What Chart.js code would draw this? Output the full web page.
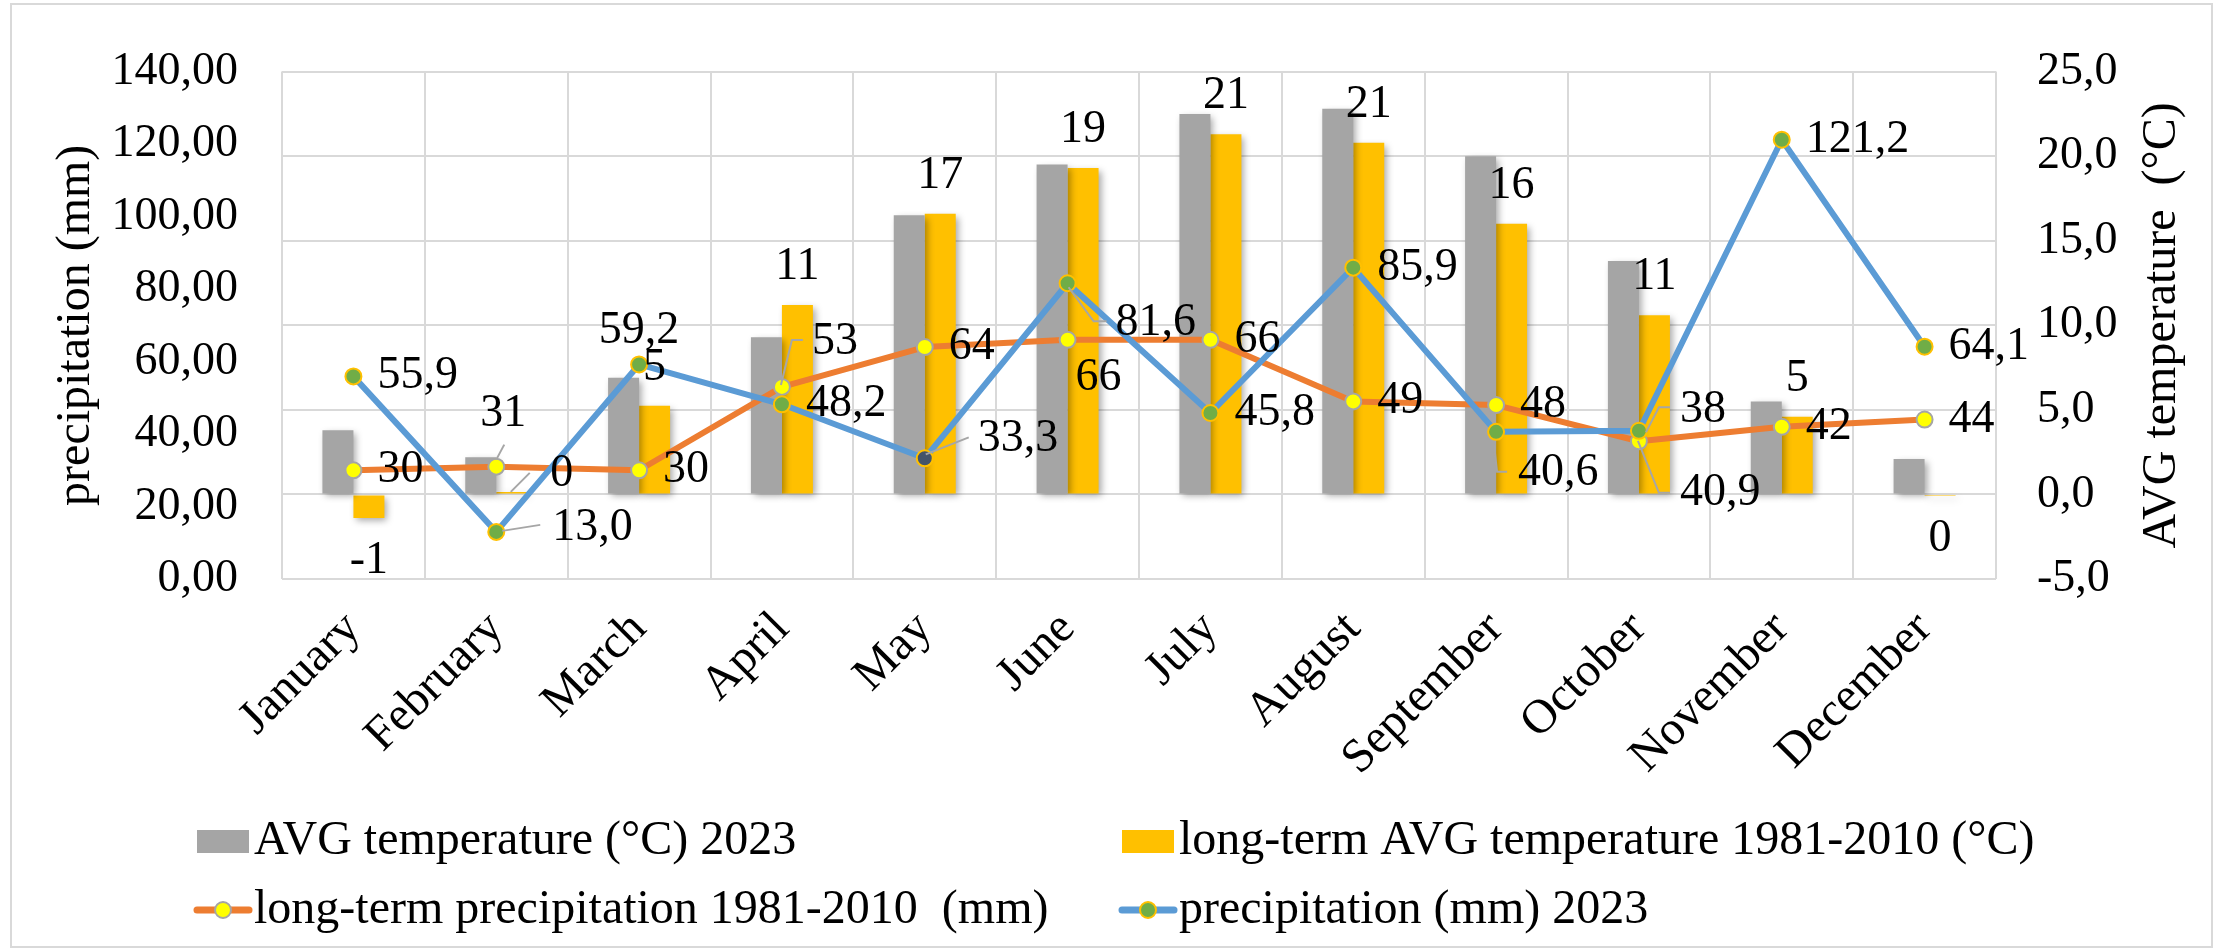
<!DOCTYPE html>
<html>
<head>
<meta charset="utf-8">
<title>Temperature and precipitation 2023</title>
<script src="https://cdn.jsdelivr.net/npm/chart.js@4.4.0/dist/chart.umd.min.js"></script>
<style>
  html, body { margin: 0; padding: 0; background: #ffffff; overflow: hidden; }
  #wrap { position: relative; width: 2221px; height: 951px; }
</style>
</head>
<body>
<div id="wrap"><canvas id="chart"></canvas></div>
<script>
//-----------------------------------------------------------------------------
// data
//-----------------------------------------------------------------------------
const months = ['January', 'February', 'March', 'April', 'May', 'June',
                'July', 'August', 'September', 'October', 'November', 'December'];

const seriesNames = [
    'AVG temperature (°C) 2023',
    'long-term AVG temperature 1981-2010 (°C)',
    'long-term precipitation 1981-2010  (mm)',
    'precipitation (mm) 2023'
];

// temperature (right axis, °C)
const avgTemp2023     = [3.8, 2.2, 6.9, 9.3, 16.5, 19.5, 22.5, 22.8, 20.0, 13.8, 5.5, 2.1];
const longTermTemp    = [-1.4, 0.15, 5.25, 11.2, 16.6, 19.3, 21.3, 20.8, 16.0, 10.6, 4.6, -0.1];

// precipitation (left axis, mm)
const longTermPrecip  = [30, 31, 30, 53, 64, 66, 66, 49, 48, 38, 42, 44];
const precip2023      = [55.9, 13.0, 59.2, 48.2, 33.3, 81.6, 45.8, 85.9, 40.6, 40.9, 121.2, 64.1];

// axis ranges: [min, max, step]
const precipAxis = [0, 140, 20];
const tempAxis   = [-5, 25, 5];

//-----------------------------------------------------------------------------
// styling / layout
//-----------------------------------------------------------------------------
const FONT = '"Liberation Serif"';
const TICK_SIZE = 46;     // axis numbers and data labels
const TEXT_SIZE = 48;     // titles, month names, legend
const GRID = '#D9D9D9';
const LEADER = '#A6A6A6';

Chart.defaults.font.family = FONT;
Chart.defaults.font.size = TICK_SIZE;
Chart.defaults.color = '#000000';

// where the data labels sit that were moved by hand (offsets from the mark)
const longPrecipLabelPlace = {
    1: { dx: -16, dy: -53, leader: [[0, -7], [8, -22]] },
    3: { dx: 30, dy: -45, leader: [[-1, -2], [10, -47], [21, -47]] },
    5: { dx: 8, dy: 38 },
    9: { dx: 41, dy: -31, leader: [[7, -9], [20, -34], [31, -34]] }
};
const precipLabelPlace = {
    1: { dx: 56, dy: -4, leader: [[6, -1], [44, -7]] },
    2: { dx: 0, dy: -34, center: true },
    4: { dx: 53, dy: -19, leader: [[1, -4], [44, -21]] },
    5: { dx: 48, dy: 40, leader: [[1, 4], [26, 38], [39, 38]] },
    8: { dx: 22, dy: 41, leader: [[-2, 13], [1, 40], [11, 40]] },
    9: { dx: 41, dy: 62, leader: [[-1, 10], [20, 62], [31, 62]] }
};
const longTempLabelPlace = {
    1: { dx: 50, dy: -18, leader: [[-1, 0], [18, -19]] }
};

// legend grid (two columns, two rows)
const legendCols = [197, 1122];
const legendRows = [841.5, 910];

const commaFixed = (v, d) => v.toFixed(d).replace('.', ',');

//-----------------------------------------------------------------------------
// helper: poly line for the label leader lines
//-----------------------------------------------------------------------------
function drawLeader(ctx, x, y, pts) {
    ctx.save();
    ctx.strokeStyle = LEADER;
    ctx.lineWidth = 2;
    ctx.beginPath();
    pts.forEach((p, i) => {
        if (i === 0) ctx.moveTo(x + p[0], y + p[1]);
        else ctx.lineTo(x + p[0], y + p[1]);
    });
    ctx.stroke();
    ctx.restore();
}

function drawLineLabels(ctx, meta, values, places, fmt) {
    meta.data.forEach((pt, i) => {
        const place = places[i] || { dx: 24, dy: 0 };
        if (place.leader) drawLeader(ctx, pt.x, pt.y, place.leader);
        ctx.textAlign = place.center ? 'center' : 'left';
        ctx.fillText(fmt(values[i]), pt.x + place.dx, pt.y + place.dy);
    });
}

//-----------------------------------------------------------------------------
// plugin: frame, bar shadows, data labels, right title and legend
//-----------------------------------------------------------------------------
const excelLook = {
    id: 'excelLook',

    beforeDraw(chart) {
        const ctx = chart.ctx;
        ctx.save();
        ctx.fillStyle = '#ffffff';
        ctx.fillRect(0, 0, chart.width, chart.height);
        ctx.strokeStyle = GRID;
        ctx.lineWidth = 2;
        ctx.strokeRect(11, 4, chart.width - 20, chart.height - 8);
        ctx.restore();
    },

    beforeDatasetDraw(chart, args) {
        if (args.meta.type !== 'bar') return;
        const ctx = chart.ctx;
        ctx.save();
        ctx.shadowColor = 'rgba(0, 0, 0, 0.35)';
        ctx.shadowBlur = 7;
        ctx.shadowOffsetX = 3;
        ctx.shadowOffsetY = 3;
    },

    afterDatasetDraw(chart, args) {
        if (args.meta.type !== 'bar') return;
        chart.ctx.restore();
    },

    afterDatasetsDraw(chart) {
        const ctx = chart.ctx;
        ctx.save();
        ctx.font = `${TICK_SIZE}px ${FONT}`;
        ctx.fillStyle = '#000000';
        ctx.textBaseline = 'middle';

        // long-term temperature bars: outside end
        chart.getDatasetMeta(1).data.forEach((bar, i) => {
            const v = longTermTemp[i];
            const place = longTempLabelPlace[i];
            ctx.textAlign = 'center';
            if (place) {
                drawLeader(ctx, bar.x, bar.y, place.leader);
                ctx.fillText(String(Math.round(v)), bar.x + place.dx, bar.y + place.dy);
            } else {
                const y = v < 0 ? bar.y + 43 : bar.y - 38;
                ctx.fillText(String(Math.round(v)), bar.x, y);
            }
        });

        drawLineLabels(ctx, chart.getDatasetMeta(2), longTermPrecip, longPrecipLabelPlace,
                       v => String(Math.round(v)));
        drawLineLabels(ctx, chart.getDatasetMeta(3), precip2023, precipLabelPlace,
                       v => commaFixed(v, 1));
        ctx.restore();
    },

    afterDraw(chart) {
        const ctx = chart.ctx;
        const area = chart.chartArea;
        ctx.save();
        ctx.font = `${TEXT_SIZE}px ${FONT}`;
        ctx.fillStyle = '#000000';

        // right axis title, reading bottom to top like the left one
        ctx.translate(2162, (area.top + area.bottom) / 2);
        ctx.rotate(-Math.PI / 2);
        ctx.textAlign = 'center';
        ctx.textBaseline = 'middle';
        ctx.fillText('AVG temperature  (°C)', 0, 0);
        ctx.setTransform(1, 0, 0, 1, 0, 0);

        // legend
        ctx.textAlign = 'left';
        chart.data.datasets.forEach((ds, i) => {
            const x = legendCols[i % 2];
            const y = legendRows[Math.floor(i / 2)];
            if (ds.type === 'bar') {
                ctx.fillStyle = ds.backgroundColor;
                ctx.fillRect(x, y - 11.5, 52, 23);
                ctx.fillStyle = '#000000';
                ctx.fillText(ds.label, x + 57, y);
            } else {
                ctx.strokeStyle = ds.borderColor;
                ctx.lineWidth = 7;
                ctx.lineCap = 'round';
                ctx.beginPath();
                ctx.moveTo(x, y);
                ctx.lineTo(x + 52, y);
                ctx.stroke();
                ctx.beginPath();
                ctx.arc(x + 26, y, 8, 0, Math.PI * 2);
                ctx.fillStyle = ds.legendPointColor;
                ctx.fill();
                ctx.lineWidth = 2;
                ctx.strokeStyle = ds.legendPointBorder;
                ctx.stroke();
                ctx.fillStyle = '#000000';
                ctx.fillText(ds.label, x + 57, y);
            }
        });
        ctx.restore();
    }
};

//-----------------------------------------------------------------------------
// the chart
//-----------------------------------------------------------------------------
const ctx = document.getElementById('chart').getContext('2d');
new Chart(ctx, {
    type: 'bar',
    data: {
        labels: months,
        datasets: [
            {
                type: 'bar',
                label: seriesNames[0],
                data: avgTemp2023,
                yAxisID: 'yTemp',
                backgroundColor: '#A5A5A5',
                categoryPercentage: 0.434,
                barPercentage: 1.0,
                order: 2
            },
            {
                type: 'bar',
                label: seriesNames[1],
                data: longTermTemp,
                yAxisID: 'yTemp',
                backgroundColor: '#FFC000',
                categoryPercentage: 0.434,
                barPercentage: 1.0,
                order: 3
            },
            {
                type: 'line',
                label: seriesNames[2],
                data: longTermPrecip,
                yAxisID: 'yPrecip',
                borderColor: '#ED7D31',
                borderWidth: 6,
                borderCapStyle: 'round',
                borderJoinStyle: 'round',
                tension: 0,
                pointRadius: 8,
                pointBackgroundColor: '#FFFF00',
                pointBorderColor: '#A5A5A5',
                pointBorderWidth: 2,
                legendPointColor: '#FFFF00',
                legendPointBorder: '#A5A5A5',
                order: 1
            },
            {
                type: 'line',
                label: seriesNames[3],
                data: precip2023,
                yAxisID: 'yPrecip',
                borderColor: '#5B9BD5',
                borderWidth: 6,
                borderCapStyle: 'round',
                borderJoinStyle: 'round',
                tension: 0,
                pointRadius: 8,
                // the May marker is dark in the original
                pointBackgroundColor: months.map(m => m === 'May' ? '#44546A' : '#70AD47'),
                pointBorderColor: '#FFC000',
                pointBorderWidth: 2,
                legendPointColor: '#70AD47',
                legendPointBorder: '#FFC000',
                order: 0
            }
        ]
    },

    options: {
        responsive: true,
        maintainAspectRatio: false,
        animation: false,
        layout: {
            padding: { top: 45, left: 0, right: 0, bottom: 0 }
        },

        plugins: {
            legend: { display: false },
            tooltip: { enabled: false }
        },

        scales: {
            x: {
                offset: true,
                grid: { offset: true, color: GRID, lineWidth: 2, drawTicks: false },
                border: { display: false },
                ticks: {
                    minRotation: 45,
                    maxRotation: 45,
                    autoSkip: false,
                    padding: 22,
                    font: { size: TEXT_SIZE }
                },
                afterFit: s => { s.height = 372; }
            },

            yPrecip: {
                position: 'left',
                min: precipAxis[0],
                max: precipAxis[1],
                grid: { display: false, drawTicks: false },
                border: { display: false },
                ticks: {
                    stepSize: precipAxis[2],
                    padding: 44,
                    callback: v => commaFixed(v, 2)
                },
                title: {
                    display: true,
                    text: 'precipitation (mm)',
                    font: { size: TEXT_SIZE },
                    padding: { top: 48, bottom: 0 }
                },
                afterFit: s => { s.width = 282; }
            },

            yTemp: {
                position: 'right',
                min: tempAxis[0],
                max: tempAxis[1],
                grid: { color: GRID, lineWidth: 2, drawTicks: false },
                border: { display: false },
                ticks: {
                    stepSize: tempAxis[2],
                    padding: 41,
                    callback: v => commaFixed(v, 1)
                },
                afterFit: s => { s.width = 225; }
            }
        }
    },
    plugins: [excelLook]
});
</script>
</body>
</html>
